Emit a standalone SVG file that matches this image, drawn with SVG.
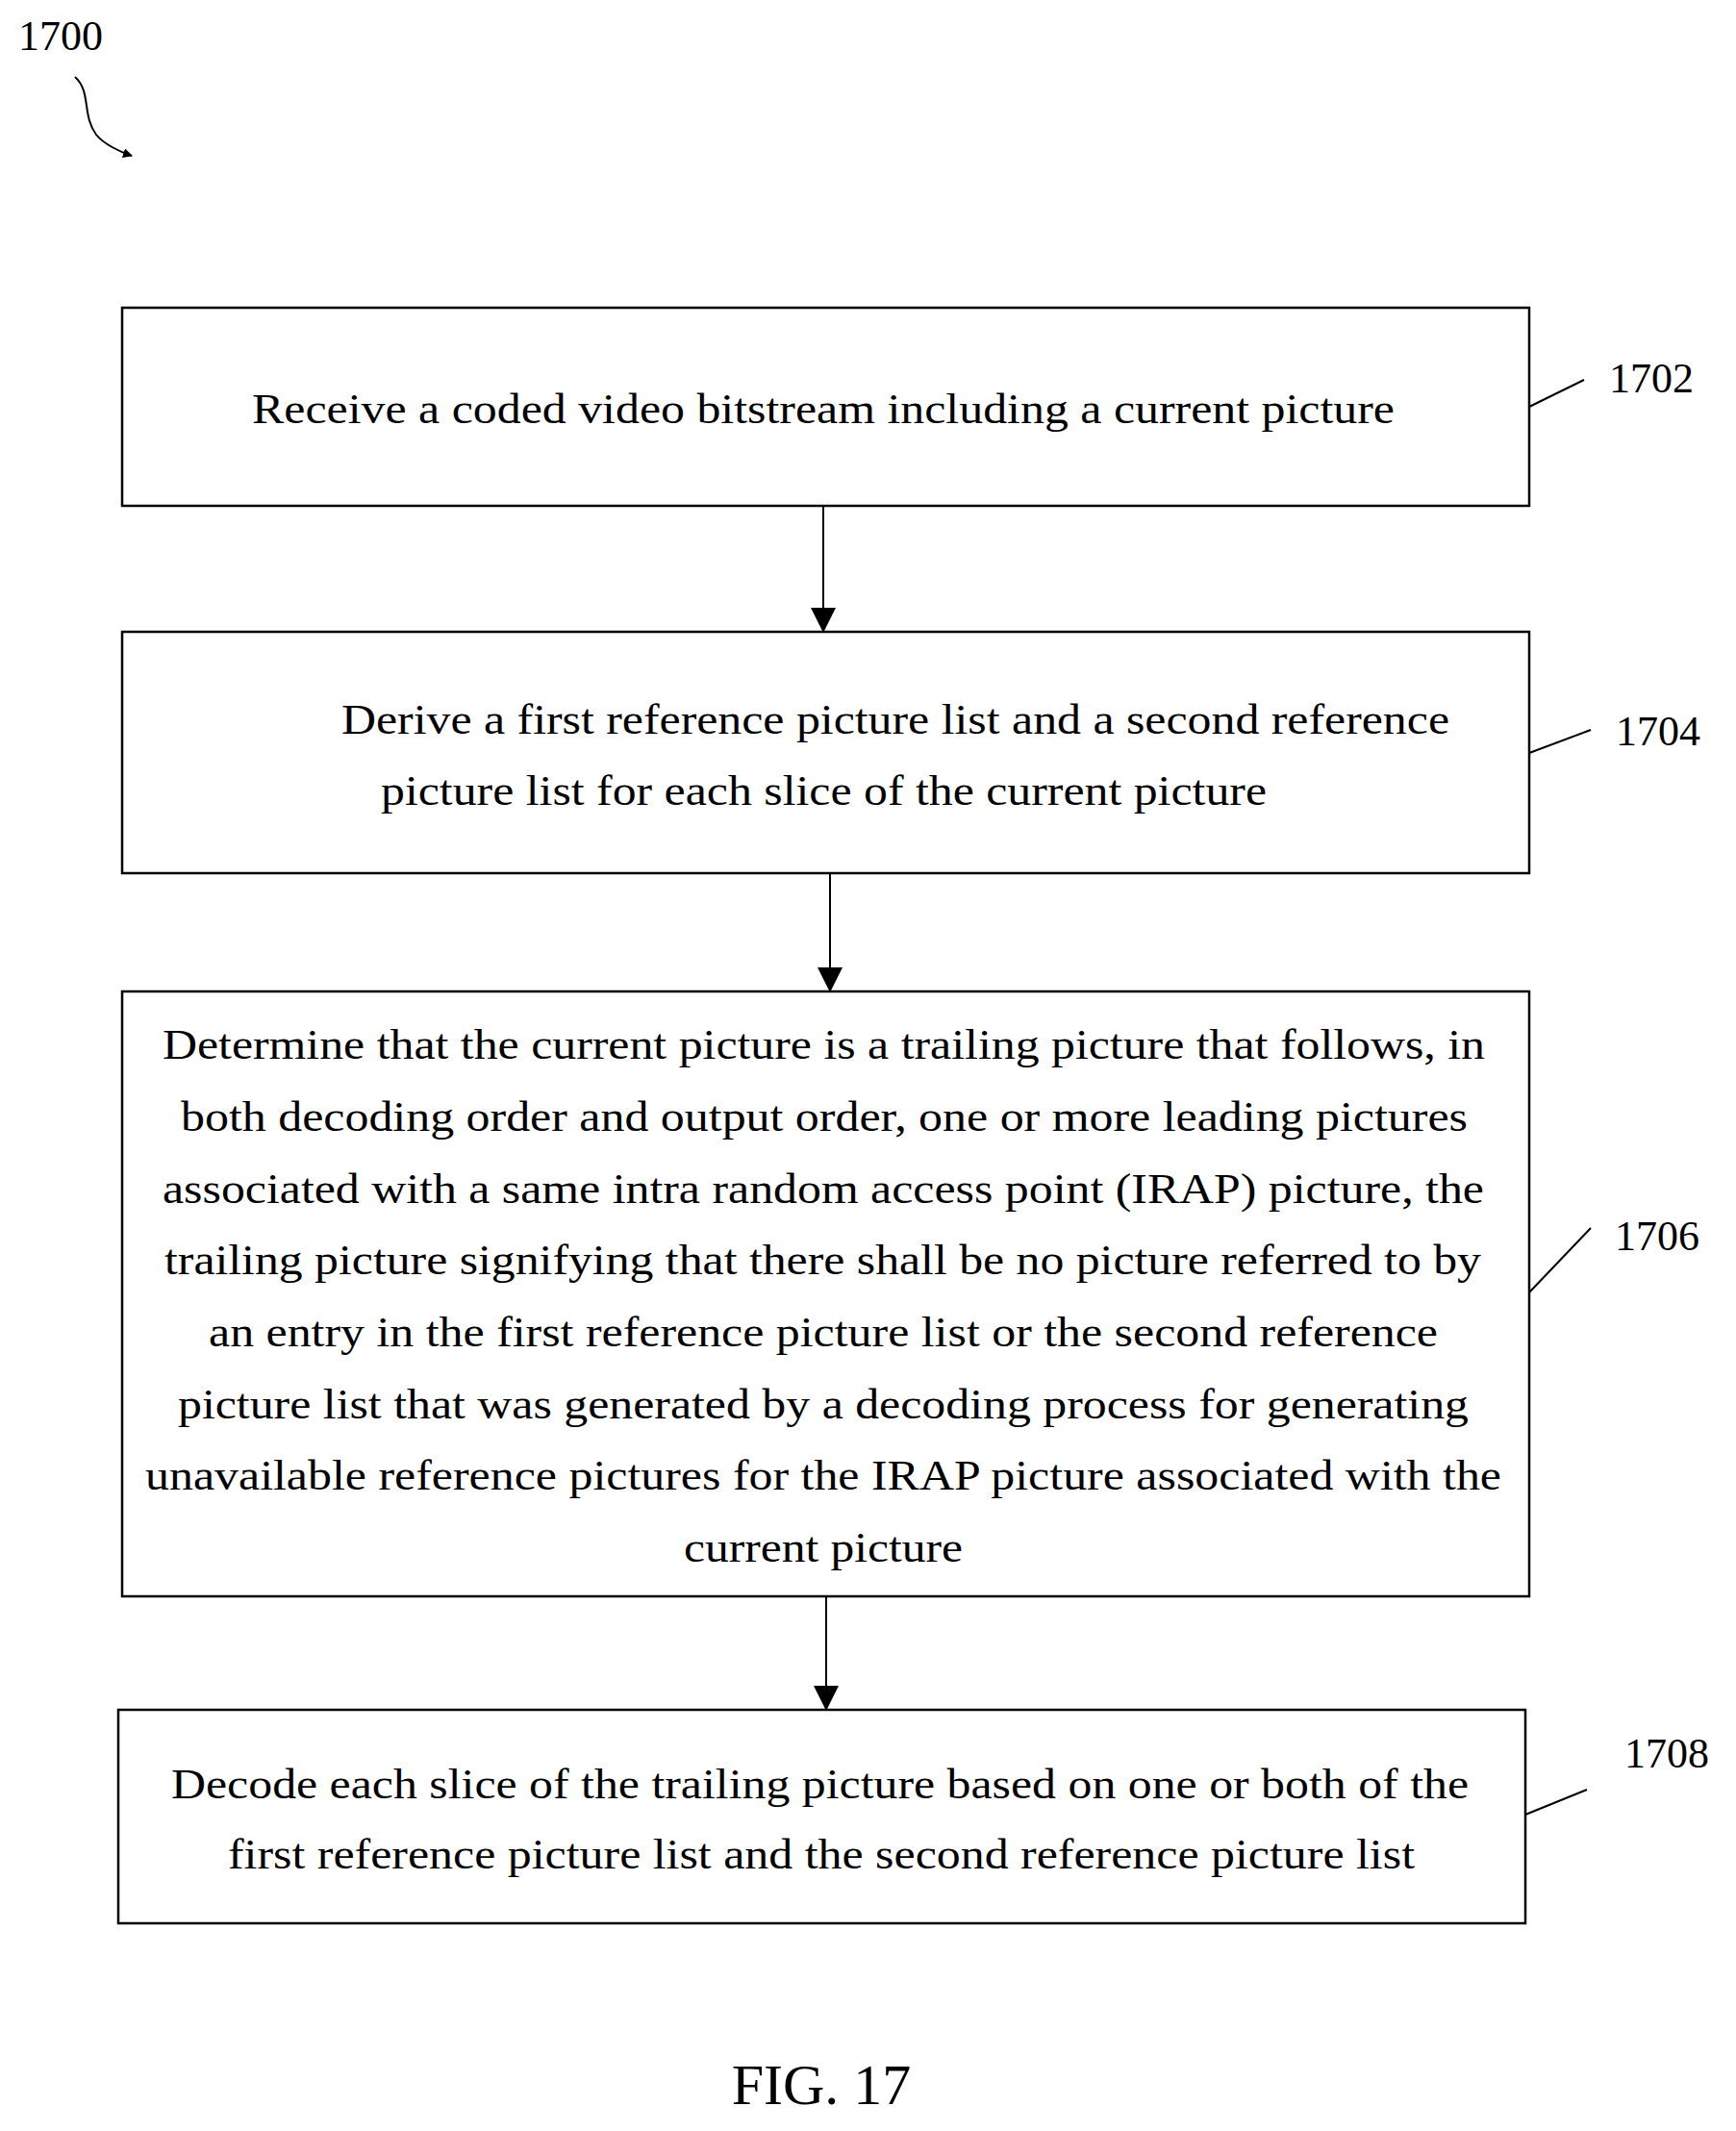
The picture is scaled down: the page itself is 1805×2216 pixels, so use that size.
<svg xmlns="http://www.w3.org/2000/svg" width="1805" height="2216" viewBox="0 0 1805 2216">
<style>
.b{fill:#fff;stroke:#000;stroke-width:2.5}
.t{font-family:"Liberation Serif",serif;font-size:45px;fill:#000}
.n{font-family:"Liberation Serif",serif;font-size:44px;fill:#000}
.c{stroke:#000;stroke-width:2;fill:none}
</style>
<defs><marker id="a" markerWidth="10" markerHeight="10" refX="9" refY="5" orient="auto" markerUnits="userSpaceOnUse" viewBox="0 0 10 10"><path d="M0,0 L10,5 L0,10 z" fill="#000"/></marker>
<marker id="ah" markerWidth="26" markerHeight="26" refX="25" refY="13" orient="auto" markerUnits="userSpaceOnUse" viewBox="0 0 26 26"><path d="M0,0 L26,13 L0,26 z" fill="#000"/></marker></defs>
<rect width="1805" height="2216" fill="#fff"/>
<g id="n1700"><text class="n" x="63" y="52" text-anchor="middle">1700</text>
<path class="c" d="M78,80 C95,95 85,120 100,140 C108,150 125,158 137,162" marker-end="url(#a)"/></g>
<g id="connectors">
<line class="c" x1="856" y1="526" x2="856" y2="657" marker-end="url(#ah)"/>
<line class="c" x1="863" y1="908" x2="863" y2="1031" marker-end="url(#ah)"/>
<line class="c" x1="859" y1="1660" x2="859" y2="1778" marker-end="url(#ah)"/>
<line class="c" x1="1590" y1="423" x2="1647" y2="395"/>
<line class="c" x1="1590" y1="783" x2="1654" y2="759"/>
<line class="c" x1="1590" y1="1344" x2="1654" y2="1277"/>
<line class="c" x1="1586" y1="1887" x2="1650" y2="1861"/>
</g>
<g id="s1702"><rect class="b" x="127" y="320" width="1463" height="206"/>
<text class="t" x="262" y="440" textLength="1188" lengthAdjust="spacingAndGlyphs">Receive a coded video bitstream including a current picture</text>
<text class="n" x="1717" y="408" text-anchor="middle">1702</text></g>
<g id="s1704"><rect class="b" x="127" y="657" width="1463" height="251"/>
<text class="t" x="355" y="763" textLength="1152" lengthAdjust="spacingAndGlyphs">Derive a first reference picture list and a second reference</text>
<text class="t" x="396" y="837" textLength="921" lengthAdjust="spacingAndGlyphs">picture list for each slice of the current picture</text>
<text class="n" x="1724" y="775" text-anchor="middle">1704</text></g>
<g id="s1706"><rect class="b" x="127" y="1031" width="1463" height="629"/>
<text class="t" x="169" y="1101" textLength="1375" lengthAdjust="spacingAndGlyphs">Determine that the current picture is a trailing picture that follows, in</text>
<text class="t" x="188" y="1176" textLength="1338" lengthAdjust="spacingAndGlyphs">both decoding order and output order, one or more leading pictures</text>
<text class="t" x="169" y="1251" textLength="1374" lengthAdjust="spacingAndGlyphs">associated with a same intra random access point (IRAP) picture, the</text>
<text class="t" x="171" y="1325" textLength="1369" lengthAdjust="spacingAndGlyphs">trailing picture signifying that there shall be no picture referred to by</text>
<text class="t" x="217" y="1400" textLength="1278" lengthAdjust="spacingAndGlyphs">an entry in the first reference picture list or the second reference</text>
<text class="t" x="185" y="1475" textLength="1342" lengthAdjust="spacingAndGlyphs">picture list that was generated by a decoding process for generating</text>
<text class="t" x="151" y="1549" textLength="1410" lengthAdjust="spacingAndGlyphs">unavailable reference pictures for the IRAP picture associated with the</text>
<text class="t" x="711" y="1624" textLength="290" lengthAdjust="spacingAndGlyphs">current picture</text>
<text class="n" x="1723" y="1300" text-anchor="middle">1706</text></g>
<g id="s1708"><rect class="b" x="123" y="1778" width="1463" height="222"/>
<text class="t" x="178" y="1870" textLength="1349" lengthAdjust="spacingAndGlyphs">Decode each slice of the trailing picture based on one or both of the</text>
<text class="t" x="237" y="1943" textLength="1234" lengthAdjust="spacingAndGlyphs">first reference picture list and the second reference picture list</text>
<text class="n" x="1733" y="1838" text-anchor="middle">1708</text></g>
<text font-family="Liberation Serif,serif" font-size="60" x="854" y="2188" text-anchor="middle">FIG. 17</text>
</svg>
